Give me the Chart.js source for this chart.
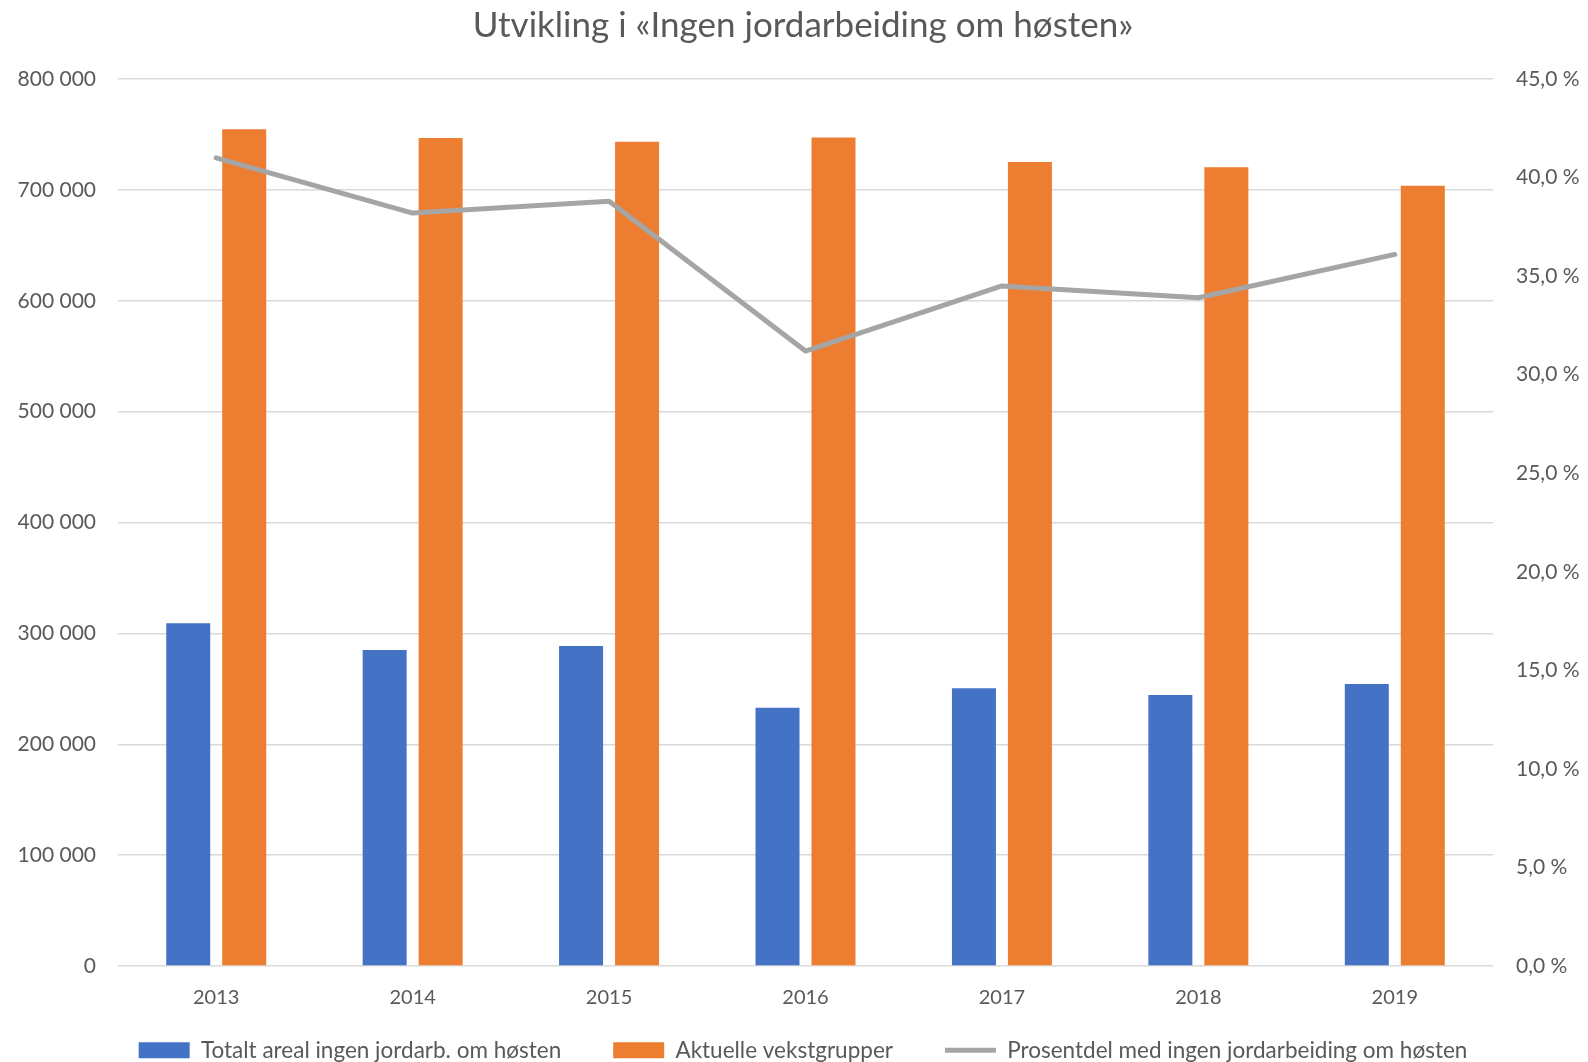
<!DOCTYPE html>
<html lang="no">
<head>
  <meta charset="UTF-8" />
  <title>Utvikling i «Ingen jordarbeiding om høsten»</title>
  <script src="https://cdn.jsdelivr.net/npm/chart.js"></script>
  <style>
    body {
      margin: 0;
      padding: 0;
      background-color: #fff;
    }
    .container {
      width: 1588px;
      height: 1062px;
    }
  </style>
</head>
<body>
  <div class="container">
    <canvas id="chart"></canvas>
  </div>

  <script>
    const years = ['2013', '2014', '2015', '2016', '2017', '2018', '2019'];
    const ingenJordarbeiding = [309100, 285000, 288600, 233000, 250400, 244400, 254300];
    const aktuelleVekstgrupper = [754600, 746700, 743400, 747300, 725100, 720500, 703700];
    const prosentdel = [41.0, 38.2, 38.8, 31.2, 34.5, 33.9, 36.1];

    const grey = '#595959';
    const fontFamily = "Lato, 'Noto Sans', sans-serif";

    function thousands(v) {
      return String(v).replace(/\B(?=(\d{3})+(?!\d))/g, ' ');
    }

    // legend padding also sets the gap between items, so pull the row up afterwards
    const legendShift = {
      id: 'legendShift',
      afterLayout(chart) {
        chart.legend.top -= 23;
        chart.legend.bottom -= 23;
      }
    };

    const ctx = document.getElementById('chart').getContext('2d');
    new Chart(ctx, {
      data: {
        labels: years,
        datasets: [
          {
            type: 'bar',
            label: 'Totalt areal ingen jordarb. om høsten',
            data: ingenJordarbeiding,
            backgroundColor: '#4472c4',
            yAxisID: 'y',
            pointStyle: 'rect',
            order: 1
          },
          {
            type: 'bar',
            label: 'Aktuelle vekstgrupper',
            data: aktuelleVekstgrupper,
            backgroundColor: '#ed7d31',
            yAxisID: 'y',
            pointStyle: 'rect',
            order: 1
          },
          {
            type: 'line',
            label: 'Prosentdel med ingen jordarbeiding om høsten',
            data: prosentdel,
            borderColor: '#a5a5a5',
            backgroundColor: '#a5a5a5',
            borderWidth: 5,
            borderCapStyle: 'round',
            borderJoinStyle: 'round',
            pointRadius: 0,
            pointStyle: 'line',
            tension: 0,
            yAxisID: 'y1',
            order: 0
          }
        ]
      },
      plugins: [legendShift],
      options: {
        responsive: true,
        maintainAspectRatio: false,
        animation: false,
        categoryPercentage: 0.57,
        barPercentage: 0.786,
        layout: {
          padding: { left: 18, right: 0, top: 0, bottom: -32.5 }
        },
        plugins: {
          title: {
            display: true,
            text: 'Utvikling i «Ingen jordarbeiding om høsten»',
            color: grey,
            font: { family: fontFamily, size: 35, weight: 'normal' },
            padding: { top: 5, bottom: 32 }
          },
          legend: {
            position: 'bottom',
            labels: {
              usePointStyle: true,
              pointStyleWidth: 51,
              boxHeight: 16,
              padding: 52,
              color: grey,
              font: { family: fontFamily, size: 22.5 },
              sort: (a, b) => a.datasetIndex - b.datasetIndex
            }
          },
          tooltip: { enabled: false }
        },
        scales: {
          x: {
            grid: { display: false },
            border: { display: false },
            ticks: {
              color: grey,
              font: { family: fontFamily, size: 20 },
              padding: 12
            },
            afterFit: s => { s.height = 44; }
          },
          y: {
            position: 'left',
            min: 0,
            max: 800000,
            border: { display: false },
            grid: { color: '#d9d9d9', lineWidth: 1.5, drawTicks: false },
            ticks: {
              stepSize: 100000,
              color: grey,
              font: { family: fontFamily, size: 21 },
              padding: 22,
              callback: v => thousands(v)
            },
            afterFit: s => { s.width = 100; }
          },
          y1: {
            position: 'right',
            min: 0,
            max: 45,
            border: { display: false },
            grid: { display: false, drawTicks: false },
            ticks: {
              stepSize: 5,
              color: grey,
              font: { family: fontFamily, size: 21 },
              padding: 23,
              callback: v => v.toFixed(1).replace('.', ',') + ' %'
            },
            afterFit: s => { s.width = 95; }
          }
        }
      }
    });
  </script>
</body>
</html>
